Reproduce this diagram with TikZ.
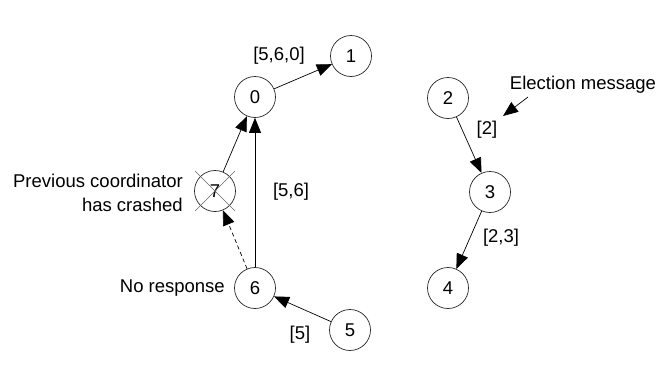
\documentclass[tikz,border=0pt]{standalone}
\usepackage{fontspec}
\setmainfont{Liberation Sans}
\usetikzlibrary{arrows.meta,calc}
\begin{document}
\begin{tikzpicture}[x=1pt,y=-1pt,
  proc/.style={circle,draw=black!85,line width=0.7pt,minimum size=41pt,inner sep=0pt,font=\fontsize{18.5}{22}\selectfont},
  msg/.style={line width=0.7pt,-{Triangle[length=15pt,width=12pt]}},
  lbl/.style={font=\fontsize{18.5}{23.5}\selectfont,inner sep=0pt}]
\useasboundingbox (0,0) rectangle (671,367);
\node[proc] (p0) at (255,97) {0};
\node[proc] (p1) at (351,56) {1};
\node[proc] (p7) at (215,191) {7};
\node[proc] (p6) at (255,288) {6};
\node[proc] (p5) at (350,330) {5};
\node[proc] (p2) at (448,98) {2};
\node[proc] (p3) at (490,192) {3};
\node[proc] (p4) at (448,288) {4};
\draw[black!60,line width=0.5pt] ($(p7)+(-20,-20)$) -- ($(p7)+(20,20)$);
\draw[black!60,line width=0.5pt] ($(p7)+(20,-20)$) -- ($(p7)+(-20,20)$);
\draw[msg] (p0) -- (p1);
\draw[msg] (p7) -- (p0);
\draw[msg] (p6) -- (p0);
\draw[msg,dash pattern=on 4pt off 3pt] (p6) -- (p7);
\draw[msg] (p5) -- (p6);
\draw[msg] (p2) -- (p3);
\draw[msg] (p3) -- (p4);
\node[lbl] (l560) at (279,56) {[5,6,0]};
\node[lbl,align=right,anchor=east] (lprev) at (183,193) {Previous coordinator\\has crashed};
\node[lbl] (l56) at (291,192) {[5,6]};
\node[lbl,anchor=east] (lno) at (225,288) {No response};
\node[lbl] (l5) at (300,335) {[5]};
\node[lbl] (lel) at (583,85) {Election message};
\node[lbl] (l2) at (487,130) {[2]};
\node[lbl] (l23) at (501,238) {[2,3]};
\coordinate (elstart) at (528,97);
\coordinate (elend) at (503,116);
\draw[msg] (elstart) -- (elend);
\end{tikzpicture}
\end{document}
